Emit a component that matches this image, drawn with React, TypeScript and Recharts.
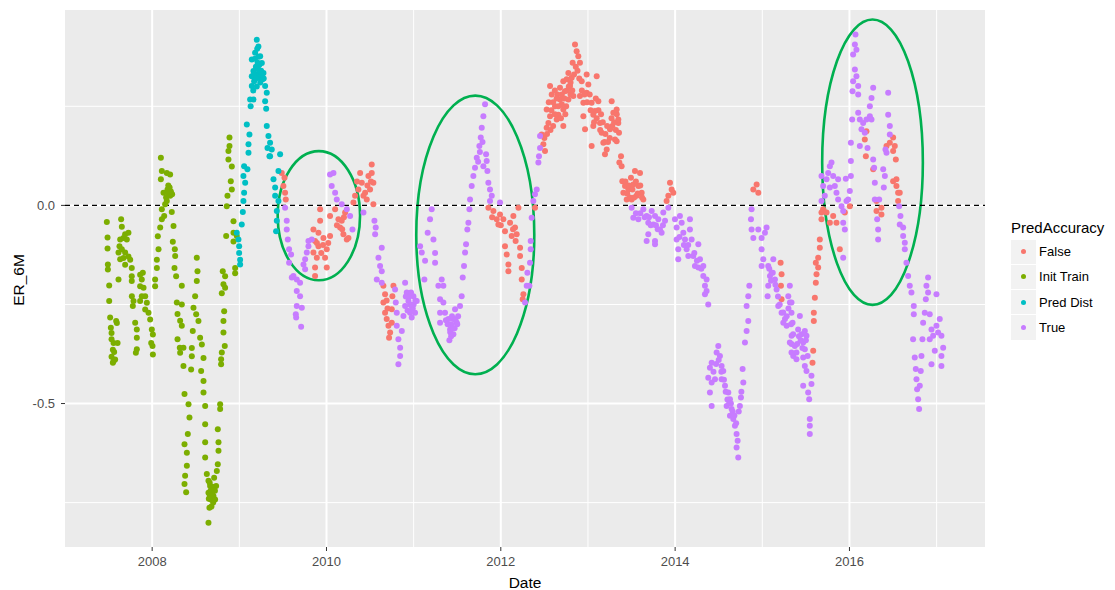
import React from 'react';
import {
  ScatterChart,
  Scatter,
  XAxis,
  YAxis,
  CartesianGrid,
  ReferenceLine,
  ReferenceArea,
} from 'recharts';

type Pt = [number, number];

// Date (fractional year) and ER_6M for each prediction-accuracy group
const initTrainPts: Pt[] = [
  [2007.48, -0.042], [2007.488, -0.081], [2007.488, -0.109], [2007.492, -0.149], [2007.492, -0.162],
  [2007.507, -0.202], [2007.507, -0.241], [2007.518, -0.283], [2007.526, -0.309], [2007.534, -0.322],
  [2007.534, -0.338], [2007.557, -0.347], [2007.595, -0.297], [2007.587, -0.292], [2007.549, -0.364],
  [2007.564, -0.37], [2007.534, -0.382], [2007.557, -0.393], [2007.549, -0.397], [2007.575, -0.389],
  [2007.603, -0.347],
  [2007.644, -0.035], [2007.652, -0.054], [2007.633, -0.086], [2007.671, -0.082], [2007.69, -0.073],
  [2007.728, -0.069], [2007.709, -0.086], [2007.625, -0.103], [2007.652, -0.111], [2007.69, -0.119],
  [2007.614, -0.119], [2007.633, -0.136], [2007.671, -0.133], [2007.728, -0.129], [2007.748, -0.137],
  [2007.69, -0.15], [2007.614, -0.187], [2007.766, -0.158], [2007.766, -0.179], [2007.766, -0.191],
  [2007.767, -0.229], [2007.786, -0.241], [2007.778, -0.254], [2007.805, -0.296], [2007.824, -0.313],
  [2007.824, -0.334], [2007.824, -0.363], [2007.813, -0.372], [2007.862, -0.175], [2007.893, -0.17],
  [2007.881, -0.187], [2007.862, -0.204], [2007.901, -0.208], [2007.881, -0.229], [2007.862, -0.241],
  [2007.92, -0.229], [2007.939, -0.246], [2007.92, -0.263], [2007.958, -0.271], [2007.977, -0.288],
  [2007.996, -0.313], [2008.008, -0.326], [2007.989, -0.347], [2008.004, -0.355], [2008.008, -0.376],
  [2008.034, -0.204], [2008.034, -0.187], [2008.054, -0.158], [2008.054, -0.137], [2008.073, -0.111],
  [2008.065, -0.078], [2008.092, -0.056], [2008.111, -0.035], [2008.138, -0.027], [2008.111, -0.01],
  [2008.149, 0.003], [2008.168, 0.011], [2008.206, 0.024], [2008.229, 0.028], [2008.176, 0.04],
  [2008.13, 0.032], [2008.1, 0.066], [2008.111, 0.087], [2008.168, 0.082], [2008.206, 0.078],
  [2008.1, 0.12], [2008.19, 0.03], [2008.215, 0.035], [2008.16, 0.02], [2008.185, 0.05], [2008.2, 0.045],
  [2008.225, -0.017], [2008.245, -0.052], [2008.237, -0.092], [2008.26, -0.111], [2008.264, -0.128],
  [2008.256, -0.158], [2008.275, -0.179],
  [2008.34, -0.203], [2008.283, -0.245], [2008.34, -0.25], [2008.291, -0.274], [2008.321, -0.291],
  [2008.34, -0.304], [2008.291, -0.338], [2008.317, -0.359], [2008.321, -0.372], [2008.359, -0.359],
  [2008.359, -0.405], [2008.371, -0.476], [2008.417, -0.502], [2008.428, -0.535], [2008.409, -0.577],
  [2008.371, -0.603], [2008.398, -0.624], [2008.398, -0.657], [2008.378, -0.682], [2008.371, -0.703],
  [2008.39, -0.724],
  [2008.512, -0.132], [2008.52, -0.166], [2008.512, -0.191], [2008.493, -0.229], [2008.474, -0.258],
  [2008.505, -0.275], [2008.531, -0.292], [2008.466, -0.317], [2008.455, -0.36], [2008.455, -0.381],
  [2008.447, -0.414], [2008.55, -0.334], [2008.57, -0.351], [2008.589, -0.385], [2008.562, -0.418],
  [2008.589, -0.443], [2008.589, -0.472], [2008.608, -0.506], [2008.608, -0.552], [2008.608, -0.598],
  [2008.608, -0.636], [2008.627, -0.678], [2008.646, -0.695], [2008.665, -0.708], [2008.684, -0.721],
  [2008.711, -0.687], [2008.734, -0.708], [2008.646, -0.725], [2008.673, -0.742], [2008.657, -0.763],
  [2008.646, -0.801], [2008.742, -0.67], [2008.753, -0.653], [2008.761, -0.619], [2008.761, -0.598],
  [2008.753, -0.565], [2008.78, -0.514], [2008.78, -0.502], [2008.722, -0.742], [2008.703, -0.733],
  [2008.69, -0.71], [2008.66, -0.73], [2008.7, -0.75], [2008.65, -0.74], [2008.67, -0.72],
  [2008.69, -0.73], [2008.68, -0.76], [2008.66, -0.7], [2008.72, -0.72],
  [2008.791, -0.401], [2008.791, -0.388], [2008.799, -0.371], [2008.833, -0.355], [2008.818, -0.321],
  [2008.818, -0.292], [2008.826, -0.267], [2008.799, -0.222], [2008.837, -0.208], [2008.818, -0.199],
  [2008.837, -0.179], [2008.81, -0.166], [2008.952, -0.171], [2008.952, -0.158], [2008.933, -0.091],
  [2008.971, -0.077], [2008.933, -0.069], [2008.849, -0.077], [2008.933, -0.04], [2008.856, -0.002],
  [2008.864, 0.024], [2008.914, 0.04], [2008.902, 0.061], [2008.914, 0.098], [2008.875, 0.116],
  [2008.875, 0.137], [2008.887, 0.15], [2008.887, 0.171],
];

const predDistPts: Pt[] = [
  [2008.971, -0.069], [2008.99, -0.086], [2008.998, -0.103], [2008.998, -0.12], [2009.009, -0.137],
  [2009.009, -0.149], [2009.028, -0.048], [2009.04, -0.017], [2009.047, 0.011], [2009.055, 0.032],
  [2009.067, 0.057], [2009.047, 0.074], [2009.093, 0.091], [2009.055, 0.099], [2009.105, 0.133],
  [2009.105, 0.154], [2009.116, 0.179], [2009.086, 0.204], [2009.124, 0.267], [2009.162, 0.267],
  [2009.143, 0.301], [2009.143, 0.326], [2009.162, 0.339], [2009.143, 0.368], [2009.181, 0.385],
  [2009.2, 0.418], [2009.219, 0.401], [2009.239, 0.376], [2009.258, 0.359], [2009.219, 0.343],
  [2009.277, 0.334], [2009.239, 0.322], [2009.17, 0.313], [2009.296, 0.301], [2009.315, 0.284],
  [2009.296, 0.263], [2009.308, 0.244], [2009.315, 0.2], [2009.334, 0.175], [2009.323, 0.145],
  [2009.346, 0.124], [2009.19, 0.35], [2009.21, 0.33], [2009.23, 0.355], [2009.25, 0.34],
  [2009.265, 0.318], [2009.2, 0.3], [2009.16, 0.29], [2009.13, 0.25], [2009.18, 0.37], [2009.205, 0.395],
  [2009.17, 0.33], [2009.19, 0.32], [2009.21, 0.36], [2009.23, 0.34], [2009.24, 0.31], [2009.26, 0.33],
  [2009.28, 0.32], [2009.22, 0.375],
  [2009.353, 0.158], [2009.372, 0.141], [2009.353, 0.124], [2009.468, 0.129], [2009.449, 0.087],
  [2009.392, 0.066], [2009.411, 0.045], [2009.411, 0.024], [2009.449, 0.011], [2009.43, -0.014],
  [2009.43, -0.039], [2009.422, -0.065],
];

const falsePts: Pt[] = [
  [2009.487, 0.082], [2009.518, 0.07], [2009.506, 0.049], [2009.525, 0.032], [2009.533, 0.015],
  [2009.85, -0.061], [2009.908, -0.069], [2009.927, -0.01], [2009.927, -0.039], [2009.869, -0.09],
  [2009.908, -0.103], [2009.965, -0.082], [2009.85, -0.119], [2009.889, -0.132], [2009.869, -0.157],
  [2009.869, -0.178], [2010.003, -0.111], [2009.984, -0.132], [2010.003, -0.157], [2010.041, -0.077],
  [2010.041, -0.027], [2010.099, -0.01], [2010.137, -0.035], [2010.156, -0.056], [2010.194, -0.073],
  [2010.233, -0.086], [2010.175, -0.039], [2010.214, -0.018], [2010.252, -0.082], [2009.89, -0.095],
  [2009.94, -0.12], [2009.96, -0.1], [2010.02, -0.095], [2010.12, -0.05], [2010.18, -0.06], [2010.2, -0.03],
  [2010.309, 0.007], [2010.328, 0.024], [2010.366, 0.04], [2010.386, 0.082], [2010.405, 0.057],
  [2010.443, 0.032], [2010.481, 0.074], [2010.519, 0.103], [2010.519, 0.082], [2010.538, 0.057],
  [2010.5, 0.04], [2010.462, 0.015], [2010.538, 0.003], [2010.424, 0.024], [2010.35, 0.06],
  [2010.47, 0.05], [2010.51, 0.06],
  [2010.653, -0.203], [2010.672, -0.224], [2010.653, -0.245], [2010.672, -0.271], [2010.691, -0.287],
  [2010.711, -0.304], [2010.73, -0.321], [2010.718, -0.334], [2010.768, -0.203], [2010.756, -0.229],
  [2010.749, -0.262], [2010.749, -0.296], [2010.7, -0.26], [2010.69, -0.24],
  [2011.857, -0.006], [2011.915, -0.014], [2011.953, -0.035], [2011.991, -0.023], [2011.972, -0.048],
  [2012.029, -0.035], [2012.048, -0.065], [2012.106, -0.044], [2012.144, -0.027], [2012.163, -0.056],
  [2012.125, -0.077], [2012.182, -0.073], [2012.202, -0.006], [2012.048, -0.103], [2012.068, -0.124],
  [2012.087, -0.149], [2012.087, -0.166], [2012.221, -0.107], [2012.221, -0.128], [2012.24, -0.158],
  [2012.24, -0.187], [2012.259, -0.224], [2012.251, -0.237], [2012.392, -0.006], [2011.9, -0.03],
  [2012.0, -0.05], [2012.14, -0.06], [2012.17, -0.09],
  [2012.488, 0.154], [2012.507, 0.137], [2012.469, 0.179], [2012.526, 0.196], [2012.546, 0.208],
  [2012.526, 0.242], [2012.565, 0.225], [2012.565, 0.301], [2012.584, 0.28], [2012.622, 0.25],
  [2012.641, 0.217], [2012.66, 0.229], [2012.679, 0.267], [2012.679, 0.297], [2012.717, 0.313],
  [2012.717, 0.242], [2012.717, 0.2], [2012.736, 0.288], [2012.756, 0.318], [2012.775, 0.334],
  [2012.775, 0.267], [2012.794, 0.301], [2012.824, 0.36], [2012.813, 0.322], [2012.832, 0.276],
  [2012.851, 0.406], [2012.87, 0.389], [2012.889, 0.376], [2012.908, 0.36], [2012.928, 0.313],
  [2012.908, 0.276], [2012.947, 0.259], [2012.947, 0.225], [2012.966, 0.192], [2012.985, 0.33],
  [2013.004, 0.305], [2012.985, 0.284], [2013.042, 0.259], [2013.061, 0.229], [2013.08, 0.238],
  [2013.1, 0.326], [2013.119, 0.263], [2013.042, 0.15], [2013.061, 0.2], [2013.138, 0.208],
  [2013.157, 0.183], [2013.176, 0.158], [2013.195, 0.129], [2013.215, 0.141], [2013.253, 0.192],
  [2013.272, 0.263], [2013.291, 0.234], [2013.31, 0.166], [2013.348, 0.208], [2013.36, 0.108],
  [2012.6, 0.26], [2012.65, 0.28], [2012.7, 0.255], [2012.74, 0.23], [2012.76, 0.29], [2012.8, 0.28],
  [2012.69, 0.22], [2012.6, 0.2], [2013.02, 0.28], [2013.1, 0.22], [2013.15, 0.23], [2013.2, 0.18],
  [2013.23, 0.16], [2013.28, 0.2], [2013.32, 0.19],
  [2012.55, 0.26], [2012.58, 0.24], [2012.62, 0.29], [2012.64, 0.27], [2012.66, 0.25], [2012.7, 0.28],
  [2012.73, 0.27], [2012.75, 0.25], [2012.78, 0.3], [2012.8, 0.31], [2012.82, 0.29], [2012.84, 0.33],
  [2012.86, 0.35], [2012.88, 0.34], [2012.9, 0.32], [2012.93, 0.29], [2012.96, 0.28], [2012.99, 0.26],
  [2013.03, 0.24], [2013.07, 0.21], [2013.09, 0.27], [2013.12, 0.24], [2013.14, 0.19], [2013.17, 0.21],
  [2013.19, 0.16], [2013.22, 0.2], [2013.25, 0.17], [2013.27, 0.22], [2013.3, 0.21], [2013.33, 0.23],
  [2012.5, 0.17], [2012.53, 0.18], [2012.57, 0.19], [2012.62, 0.23],
  [2013.329, 0.242], [2013.348, 0.217], [2013.356, 0.183], [2013.329, 0.162], [2013.379, 0.124],
  [2013.386, 0.099], [2013.394, 0.061], [2013.425, 0.049], [2013.406, 0.032], [2013.463, 0.04],
  [2013.493, 0.07], [2013.539, 0.087], [2013.597, 0.082], [2013.52, 0.053], [2013.578, 0.049],
  [2013.616, 0.032], [2013.635, 0.015], [2013.501, 0.015], [2013.444, 0.015], [2013.558, 0.024],
  [2013.45, 0.03], [2013.47, 0.05], [2013.51, 0.04], [2013.53, 0.02], [2013.55, 0.06], [2013.57, 0.03],
  [2013.6, 0.05], [2013.62, 0.02], [2013.43, 0.06], [2013.48, 0.02],
  [2013.941, 0.057], [2013.96, 0.04], [2013.922, 0.024], [2013.979, 0.032], [2013.902, 0.011],
  [2014.897, 0.04], [2014.935, 0.053], [2014.954, 0.032], [2015.21, -0.145], [2015.221, -0.174],
  [2015.214, -0.203], [2015.221, -0.237],
  [2015.576, -0.397], [2015.584, -0.367], [2015.591, -0.292], [2015.591, -0.271], [2015.603, -0.233],
  [2015.614, -0.195], [2015.622, -0.174], [2015.641, -0.157], [2015.641, -0.132], [2015.66, -0.107],
  [2015.66, -0.086], [2015.614, -0.145], [2015.679, -0.035], [2015.679, -0.018], [2015.698, -0.01],
  [2015.737, -0.018], [2015.775, -0.044], [2015.813, -0.027], [2015.851, -0.044], [2015.947, -0.018],
  [2016.004, -0.002], [2015.889, -0.111],
  [2016.195, 0.187], [2016.176, 0.166], [2016.188, 0.124], [2016.272, 0.091], [2016.31, 0.011],
  [2016.31, -0.014], [2016.367, -0.006], [2016.367, -0.023], [2016.425, 0.15], [2016.463, 0.158],
  [2016.501, 0.171], [2016.52, 0.15], [2016.501, 0.137], [2016.532, 0.116], [2016.501, 0.061],
  [2016.539, 0.066], [2016.539, 0.049], [2016.558, 0.032], [2016.577, 0.032], [2016.558, 0.011],
];

const truePts: Pt[] = [
  [2009.525, -0.006], [2009.544, -0.039], [2009.544, -0.061], [2009.556, -0.086], [2009.571, -0.111],
  [2009.594, -0.124], [2009.571, -0.145], [2009.621, -0.178], [2009.602, -0.182], [2009.659, -0.187],
  [2009.697, -0.195], [2009.659, -0.216], [2009.697, -0.229], [2009.659, -0.254], [2009.717, -0.258],
  [2009.648, -0.275], [2009.652, -0.283], [2009.709, -0.306], [2009.736, -0.149], [2009.755, -0.136],
  [2009.774, -0.119], [2009.793, -0.103], [2009.755, -0.161], [2009.793, -0.09], [2009.831, -0.086],
  [2010.041, 0.078], [2010.08, 0.082], [2010.06, 0.049], [2010.099, 0.032], [2010.118, 0.015],
  [2010.175, 0.003], [2010.233, -0.01], [2010.271, -0.027], [2010.298, -0.061], [2010.424, -0.018],
  [2010.55, -0.039], [2010.565, -0.056], [2010.558, -0.073], [2010.634, -0.107], [2010.596, -0.132],
  [2010.615, -0.153], [2010.634, -0.166], [2010.577, -0.187], [2010.634, -0.195],
  [2010.787, -0.212], [2010.795, -0.245], [2010.806, -0.271], [2010.806, -0.304], [2010.825, -0.338],
  [2010.845, -0.359], [2010.845, -0.38], [2010.825, -0.401], [2010.864, -0.317], [2010.883, -0.279],
  [2010.902, -0.195], [2010.921, -0.22], [2010.94, -0.241], [2010.978, -0.254], [2010.997, -0.229],
  [2011.016, -0.271], [2010.959, -0.271], [2011.035, -0.241], [2010.902, -0.254], [2010.978, -0.283],
  [2010.95, -0.23], [2010.99, -0.26], [2010.93, -0.265], [2010.91, -0.23], [2010.96, -0.25],
  [2011.0, -0.25], [2011.02, -0.24], [2010.97, -0.22],
  [2011.074, -0.103], [2011.093, -0.119], [2011.131, -0.14], [2011.123, -0.187], [2011.161, -0.069],
  [2011.188, -0.035], [2011.207, -0.01], [2011.227, -0.086], [2011.246, -0.12], [2011.246, -0.145],
  [2011.284, -0.203], [2011.322, -0.187], [2011.303, -0.237], [2011.303, -0.271], [2011.303, -0.296],
  [2011.341, -0.203], [2011.341, -0.245], [2011.36, -0.271], [2011.399, -0.287], [2011.418, -0.313],
  [2011.456, -0.287], [2011.475, -0.262], [2011.494, -0.296], [2011.41, -0.34], [2011.456, -0.325],
  [2011.532, -0.254], [2011.551, -0.229], [2011.563, -0.182], [2011.578, -0.153], [2011.59, -0.119],
  [2011.601, -0.098], [2011.616, -0.061], [2011.628, -0.044], [2011.64, -0.01], [2011.647, 0.015],
  [2011.666, 0.049], [2011.685, 0.074], [2011.704, 0.095], [2011.724, 0.12], [2011.754, 0.15],
  [2011.77, 0.171], [2011.781, 0.196], [2011.8, 0.225], [2011.819, 0.255], [2011.8, 0.099],
  [2011.831, 0.129], [2011.838, 0.112], [2011.846, 0.087], [2011.857, 0.057], [2011.876, 0.04],
  [2011.896, 0.024], [2011.876, 0.011], [2011.991, 0.007], [2011.43, -0.3], [2011.47, -0.31],
  [2011.44, -0.28], [2011.51, -0.28], [2011.76, 0.135], [2011.74, 0.11], [2011.79, 0.16],
  [2011.37, -0.29], [2011.39, -0.3], [2011.42, -0.32], [2011.45, -0.31], [2011.48, -0.29],
  [2011.5, -0.3], [2011.43, -0.33],
  [2012.305, -0.17], [2012.297, -0.203], [2012.278, -0.245], [2012.328, -0.203], [2012.335, -0.145],
  [2012.343, -0.111], [2012.343, -0.09], [2012.354, -0.031], [2012.373, 0.011], [2012.392, 0.028],
  [2012.412, 0.04], [2012.431, 0.108], [2012.438, 0.124], [2012.45, 0.145], [2012.45, 0.175],
  [2013.501, -0.006], [2013.52, -0.031], [2013.578, -0.035], [2013.635, -0.01], [2013.673, -0.027],
  [2013.692, -0.044], [2013.731, -0.014], [2013.769, -0.027], [2013.75, -0.048], [2013.807, -0.035],
  [2013.826, -0.061], [2013.845, -0.069], [2013.884, -0.039], [2013.864, -0.018], [2013.922, -0.006],
  [2013.692, -0.073], [2013.673, -0.09], [2013.769, -0.09], [2013.769, -0.098], [2013.998, -0.035],
  [2013.55, -0.02], [2013.6, -0.02], [2013.65, -0.03], [2013.7, -0.03], [2013.72, -0.05],
  [2013.78, -0.05], [2013.8, -0.06], [2013.86, -0.05],
  [2014.017, -0.056], [2014.055, -0.027], [2014.075, -0.044], [2014.094, -0.069], [2014.017, -0.086],
  [2014.036, -0.111], [2014.036, -0.136], [2014.113, -0.086], [2014.132, -0.111], [2014.17, -0.035],
  [2014.17, -0.061], [2014.189, -0.086], [2014.151, -0.128], [2014.208, -0.128], [2014.227, -0.153],
  [2014.266, -0.098], [2014.285, -0.136], [2014.266, -0.157], [2014.323, -0.153], [2014.323, -0.178],
  [2014.361, -0.187], [2014.342, -0.203], [2014.361, -0.216], [2014.342, -0.224], [2014.38, -0.25],
  [2014.05, -0.08], [2014.1, -0.1], [2014.15, -0.1], [2014.22, -0.12], [2014.25, -0.14], [2014.3, -0.16],
  [2014.419, -0.397], [2014.399, -0.41], [2014.38, -0.435], [2014.419, -0.447], [2014.399, -0.472],
  [2014.419, -0.506], [2014.457, -0.439], [2014.476, -0.371], [2014.495, -0.355], [2014.514, -0.38],
  [2014.533, -0.405], [2014.552, -0.418], [2014.533, -0.439], [2014.572, -0.455], [2014.61, -0.472],
  [2014.629, -0.489], [2014.591, -0.506], [2014.648, -0.514], [2014.629, -0.531], [2014.667, -0.539],
  [2014.686, -0.556], [2014.705, -0.577], [2014.717, -0.594], [2014.705, -0.611], [2014.724, -0.636],
  [2014.743, -0.506], [2014.755, -0.485], [2014.782, -0.447], [2014.774, -0.413], [2014.801, -0.346],
  [2014.82, -0.317], [2014.839, -0.292], [2014.82, -0.254], [2014.839, -0.229], [2014.851, -0.203],
  [2014.44, -0.42], [2014.47, -0.4], [2014.5, -0.39], [2014.53, -0.42], [2014.56, -0.44], [2014.58, -0.47],
  [2014.6, -0.49], [2014.62, -0.5], [2014.64, -0.5], [2014.66, -0.52], [2014.68, -0.53], [2014.7, -0.55],
  [2014.73, -0.52], [2014.76, -0.47],
  [2014.877, -0.01], [2014.87, -0.035], [2014.877, -0.061], [2014.897, -0.082], [2014.954, -0.061],
  [2014.992, -0.082], [2015.03, -0.069], [2015.049, -0.056], [2014.992, -0.111], [2015.011, -0.136],
  [2014.992, -0.153], [2015.068, -0.153], [2015.107, -0.17], [2015.068, -0.203], [2015.088, -0.178],
  [2015.126, -0.136], [2015.145, -0.187], [2015.164, -0.212], [2015.183, -0.254], [2015.221, -0.271],
  [2015.26, -0.287], [2015.279, -0.304], [2015.241, -0.296], [2015.298, -0.229], [2015.317, -0.245],
  [2015.336, -0.329], [2015.336, -0.35], [2015.355, -0.38], [2015.061, -0.229],
  [2015.08, -0.16], [2015.1, -0.19], [2015.12, -0.17], [2015.15, -0.2], [2015.18, -0.23], [2015.2, -0.25],
  [2015.24, -0.27], [2015.28, -0.28], [2015.3, -0.26], [2015.33, -0.3],
  [2015.316, -0.203], [2015.335, -0.245], [2015.335, -0.271], [2015.347, -0.296], [2015.354, -0.325],
  [2015.373, -0.355], [2015.392, -0.371], [2015.392, -0.388], [2015.431, -0.279], [2015.411, -0.313],
  [2015.45, -0.325], [2015.488, -0.317], [2015.507, -0.329], [2015.469, -0.346], [2015.488, -0.363],
  [2015.469, -0.384], [2015.488, -0.405], [2015.507, -0.418], [2015.564, -0.43], [2015.469, -0.455],
  [2015.526, -0.472], [2015.564, -0.451], [2015.538, -0.489], [2015.545, -0.539], [2015.545, -0.556],
  [2015.545, -0.577], [2015.316, -0.346], [2015.335, -0.371],
  [2015.4, -0.35], [2015.42, -0.33], [2015.44, -0.34], [2015.46, -0.36], [2015.5, -0.34], [2015.52, -0.38],
  [2015.679, 0.074], [2015.698, 0.049], [2015.717, 0.024], [2015.679, 0.011], [2015.737, 0.066],
  [2015.756, 0.082], [2015.775, 0.099], [2015.794, 0.108], [2015.813, 0.074], [2015.775, 0.045],
  [2015.832, 0.049], [2015.851, 0.032], [2015.87, 0.015], [2015.87, 0.066], [2015.909, -0.002],
  [2015.928, -0.014], [2015.928, -0.044], [2015.947, -0.061], [2015.966, 0.011], [2015.985, 0.015],
  [2016.004, 0.036], [2015.958, 0.067], [2016.016, 0.074], [2016.016, 0.112], [2016.016, 0.158],
  [2016.031, 0.217], [2016.035, 0.288], [2016.042, 0.313], [2016.062, 0.343], [2016.042, 0.381],
  [2016.062, 0.406], [2016.069, 0.431], [2016.08, 0.393], [2016.08, 0.326], [2016.1, 0.301],
  [2016.1, 0.28], [2016.1, 0.234], [2016.119, 0.217], [2016.119, 0.15], [2016.138, 0.192],
  [2016.157, 0.208], [2016.176, 0.183], [2016.195, 0.217], [2016.234, 0.25], [2016.253, 0.271],
  [2016.272, 0.297], [2016.234, 0.225], [2016.253, 0.217], [2016.207, 0.145], [2016.272, 0.116],
  [2016.283, 0.095], [2016.291, 0.057], [2016.291, 0.015], [2016.318, -0.035], [2016.329, -0.061],
  [2016.329, -0.086], [2016.341, 0.015], [2016.387, 0.091], [2016.406, 0.074], [2016.394, 0.045],
  [2016.425, 0.133], [2016.413, 0.141], [2016.444, 0.284], [2016.444, 0.229], [2016.463, 0.2],
  [2016.463, 0.179], [2015.928, -0.132],
  [2016.57, -0.002], [2016.585, -0.027], [2016.577, -0.048], [2016.616, -0.056], [2016.616, -0.077],
  [2016.635, -0.094], [2016.635, -0.111], [2016.654, -0.145], [2016.673, -0.178], [2016.692, -0.203],
  [2016.711, -0.22], [2016.738, -0.254], [2016.738, -0.275], [2016.73, -0.338], [2016.749, -0.384],
  [2016.761, -0.413], [2016.769, -0.439], [2016.776, -0.464], [2016.788, -0.489], [2016.799, -0.514],
  [2016.807, -0.455], [2016.818, -0.418], [2016.826, -0.38], [2016.837, -0.338], [2016.845, -0.296],
  [2016.864, -0.271], [2016.876, -0.237], [2016.883, -0.203], [2016.902, -0.182], [2016.902, -0.22],
  [2016.921, -0.275], [2016.941, -0.313], [2016.96, -0.329], [2016.998, -0.304], [2017.017, -0.321],
  [2017.036, -0.287], [2017.055, -0.329], [2017.075, -0.359], [2017.055, -0.38], [2017.055, -0.405],
  [2016.998, -0.224], [2016.941, -0.401], [2016.979, -0.367], [2016.921, -0.338],
];

const seriesNames = ['False', 'Init Train', 'Pred Dist', 'True'];
const seriesColors = ['#F8766D', '#7CAE00', '#00BFC4', '#C77CFF'];
const seriesPoints = [falsePts, initTrainPts, predDistPts, truePts];

const xMajorTicks = [2008, 2010, 2012, 2014, 2016];
const xMinorTicks = [2009, 2011, 2013, 2015, 2017];
const yMajorTicks = [-0.5, 0];
const yMinorTicks = [-0.75, -0.25, 0.25];
const xDomain: [number, number] = [2007.0, 2017.555];
const yDomain: [number, number] = [-0.862, 0.493];

// Highlighted periods, given as date / ER_6M bounds of each ellipse
const highlightRegions = [
  { x1: 2009.44, x2: 2010.385, y1: -0.189, y2: 0.137 },
  { x1: 2011.03, x2: 2012.384, y1: -0.426, y2: 0.277 },
  { x1: 2015.687, x2: 2016.842, y1: -0.251, y2: 0.469 },
];

const FONT = '"Liberation Sans", Arial, Helvetica, sans-serif';
const PANEL_BG = '#EBEBEB';
const HIGHLIGHT = '#00B050';

const makeDot = (color: string) => (props: any) => {
  if (props.cx == null || props.cy == null) return <g />;
  return <circle cx={props.cx} cy={props.cy} r={3} fill={color} />;
};

const ellipseShape = (props: any) => {
  const { x, y, width, height } = props;
  if (x == null || y == null) return <g />;
  return (
    <ellipse
      cx={x + width / 2}
      cy={y + height / 2}
      rx={Math.abs(width) / 2}
      ry={Math.abs(height) / 2}
      fill="none"
      stroke={HIGHLIGHT}
      strokeWidth={2.6}
    />
  );
};

export default function App() {
  const seriesData = seriesPoints.map((pts) => pts.map(([x, y]) => ({ x, y })));

  return (
    <div
      style={{
        position: 'absolute',
        left: 0,
        top: 0,
        width: 1115,
        height: 590,
        background: '#FFFFFF',
        fontFamily: FONT,
        overflow: 'hidden',
      }}
    >
      <ScatterChart width={1115} height={590} margin={{ top: 10, right: 130, bottom: 0, left: 0 }}>
        <CartesianGrid
          fill={PANEL_BG}
          stroke="#FFFFFF"
          strokeWidth={1}
          horizontalValues={yMinorTicks}
          verticalValues={xMinorTicks}
        />
        <CartesianGrid
          stroke="#FFFFFF"
          strokeWidth={2}
          horizontalValues={yMajorTicks}
          verticalValues={xMajorTicks}
        />
        <XAxis
          type="number"
          dataKey="x"
          domain={xDomain}
          ticks={xMajorTicks}
          allowDataOverflow
          interval={0}
          height={43}
          tickSize={4}
          tickMargin={6}
          axisLine={false}
          tickLine={{ stroke: '#333333' }}
          tick={{ fill: '#4D4D4D', fontSize: 13, fontFamily: FONT }}
        />
        <YAxis
          type="number"
          dataKey="y"
          domain={yDomain}
          ticks={yMajorTicks}
          allowDataOverflow
          interval={0}
          width={65}
          tickSize={4}
          tickMargin={6}
          axisLine={false}
          tickLine={{ stroke: '#333333' }}
          tick={{ fill: '#4D4D4D', fontSize: 13, fontFamily: FONT }}
          tickFormatter={(v: number) => v.toFixed(1)}
        />
        {seriesData.map((data, i) => (
          <Scatter
            key={seriesNames[i]}
            name={seriesNames[i]}
            data={data}
            fill={seriesColors[i]}
            shape={makeDot(seriesColors[i])}
            isAnimationActive={false}
          />
        ))}
        <ReferenceLine y={0} stroke="#000000" strokeWidth={1.1} strokeDasharray="5 4" />
        {highlightRegions.map((r, i) => (
          <ReferenceArea
            key={i}
            x1={r.x1}
            x2={r.x2}
            y1={r.y1}
            y2={r.y2}
            shape={ellipseShape}
          />
        ))}
      </ScatterChart>

      {/* axis titles */}
      <div
        style={{
          position: 'absolute',
          left: 525,
          top: 583,
          transform: 'translate(-50%, -50%)',
          fontSize: 15.5,
          lineHeight: 1,
          color: '#000',
          whiteSpace: 'nowrap',
        }}
      >
        Date
      </div>
      <div
        style={{
          position: 'absolute',
          left: 18.5,
          top: 280,
          transform: 'translate(-50%, -50%) rotate(-90deg)',
          fontSize: 15.5,
          lineHeight: 1,
          color: '#000',
          whiteSpace: 'nowrap',
        }}
      >
        ER_6M
      </div>

      {/* legend */}
      <div
        style={{
          position: 'absolute',
          left: 1011,
          top: 227,
          transform: 'translateY(-50%)',
          fontSize: 15,
          lineHeight: 1,
          color: '#000',
          whiteSpace: 'nowrap',
        }}
      >
        PredAccuracy
      </div>
      {seriesNames.map((name, i) => (
        <div
          key={name}
          style={{
            position: 'absolute',
            left: 1011,
            top: 239 + i * 25.3,
            height: 25.3,
            display: 'flex',
            alignItems: 'center',
          }}
        >
          <div
            style={{
              width: 24.6,
              height: 24.3,
              background: '#F2F2F2',
              position: 'relative',
            }}
          >
            <div
              style={{
                position: 'absolute',
                left: 12.3 - 2.5,
                top: 12.15 - 2.5,
                width: 5,
                height: 5,
                borderRadius: '50%',
                background: seriesColors[i],
              }}
            />
          </div>
          <span style={{ marginLeft: 3.5, fontSize: 13, color: '#000', lineHeight: 1 }}>{name}</span>
        </div>
      ))}
    </div>
  );
}
